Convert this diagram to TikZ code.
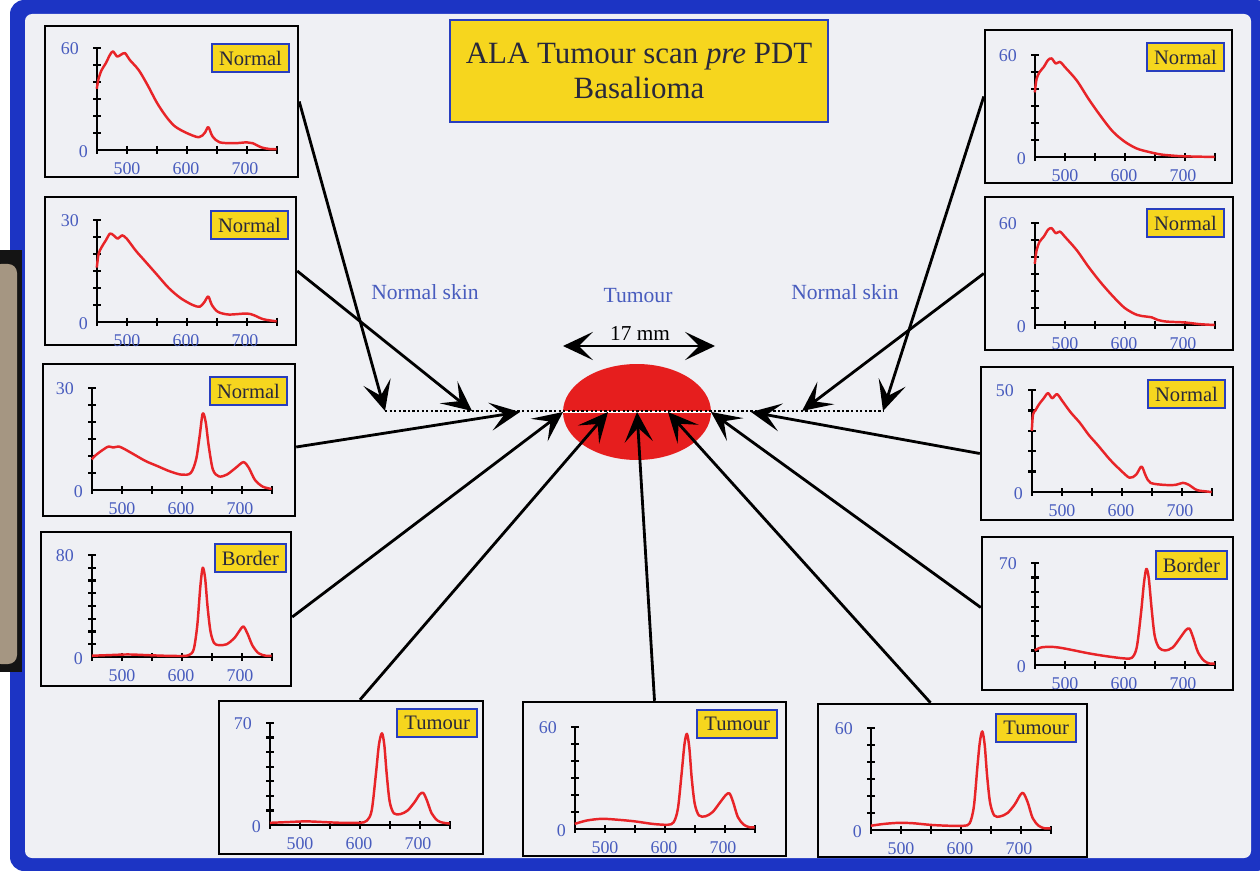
\documentclass[tikz,border=0pt]{standalone}
\usepackage{fontspec}
\setmainfont{Liberation Serif}
\usepackage{xcolor}
\usetikzlibrary{arrows.meta,positioning,calc,fit,shapes.geometric}

\definecolor{frameblue}{RGB}{28,52,196}
\definecolor{boardgray}{RGB}{239,240,244}
\definecolor{tagyellow}{RGB}{246,214,30}
\definecolor{tagblue}{RGB}{40,62,190}
\definecolor{numblue}{RGB}{72,92,190}
\definecolor{specred}{RGB}{232,36,40}
\definecolor{tumred}{RGB}{230,30,30}
\definecolor{inkdark}{RGB}{40,40,60}
\definecolor{clipbeige}{RGB}{165,150,130}

% one spectrum: name, axis origin, top value, y steps, data (nm, value)
\newcommand\specplot[5]{%
  \begin{scope}[shift={(#2)}]
    \draw[axisline] (0,-102) -- (0,0) -- (180,0);
    \foreach \k in {0,...,6}
      \draw[axisline] (30*\k,-4) -- (30*\k,4);
    \foreach \j in {1,...,#4}
      \draw[axisline] (-4,-102*\j/#4) -- (4,-102*\j/#4);
    \node[numlab, anchor=east] (#1-top) at (-16,-101) {#3};
    \node[numlab, anchor=east] (#1-zero) at (-7,2) {0};
    \foreach \v [count=\k] in {500,600,700}
      \node[numlab, anchor=north] (#1-x\k) at (59*\k-29,10) {\v};
    \pgfmathsetmacro\yunit{2.04/#3}
    \draw[specline, shift={(-270,0)}, x=0.012cm, y=\yunit cm]
      plot[smooth, tension=0.5] coordinates {#5};
  \end{scope}}

\begin{document}
\begin{tikzpicture}[
  x=0.02cm, y=-0.02cm,
  panel/.style={draw=black, line width=1.4pt, inner sep=0pt},
  tag/.style={fill=tagyellow, draw=tagblue, line width=1.2pt, text=inkdark,
    font=\fontsize{11.7}{14}\selectfont, inner xsep=4pt, inner ysep=0pt,
    minimum height=16pt},
  title/.style={fill=tagyellow, draw=tagblue, line width=1.2pt, text=inkdark,
    font=\fontsize{17.6}{20.4}\selectfont, align=center,
    minimum width=7.56cm, minimum height=2.04cm},
  axisline/.style={line width=1.3pt},
  specline/.style={specred, line width=1.4pt, line join=round},
  numlab/.style={text=numblue, font=\fontsize{10.2}{12}\selectfont, inner sep=1pt},
  skin/.style={text=numblue, font=\fontsize{12.3}{14}\selectfont},
  tumour/.style={ellipse, fill=tumred, minimum width=2.96cm,
    minimum height=1.92cm, inner sep=0pt, outer sep=0pt},
  arr/.style={line width=1.6pt, -{Stealth[length=17pt, width=16pt, inset=8pt]}},
  dotline/.style={line width=1.3pt, dash pattern=on 1.3pt off 1.3pt}
]
\useasboundingbox (0,0) rectangle (1260,871);

% board
\fill[white] (0,0) rectangle (1260,871);
\fill[frameblue, rounded corners=8pt] (10,0) rectangle (1270,871);
\fill[boardgray, rounded corners=4pt] (25,14) rectangle (1251,858);

% clip at the left edge
\fill[black!92] (0,250) rectangle (22,672);
\fill[clipbeige, rounded corners=5pt] (-8,264) rectangle (17,664);

\node[title] (ttl) at (639,71) {ALA Tumour scan \textit{pre} PDT\\Basalioma};

% left column
\node[panel, fit={(45,26) (298,177)}] (p1) {};
\node[tag, anchor=north east] (p1-tag) at (290,43) {Normal};
\specplot{p1}{97,150}{60}{6}{(450,36) (453,42) (458,47) (465,51) (472,56)
  (477,58) (484,55) (490,56) (497,57) (505,53) (520,47) (535,38) (550,28)
  (565,20) (580,14) (600,10) (620,7.5) (630,10) (636,13.5) (643,8) (655,4.5)
  (680,4) (700,4.5) (710,4) (725,1.5) (740,0.5) (750,0.5)}

\node[panel, fit={(45,197) (296,345)}] (p2) {};
\node[tag, anchor=north east] (p2-tag) at (289,210) {Normal};
\specplot{p2}{97,322}{30}{6}{(450,16) (453,20) (458,22) (465,24) (472,26)
  (478,25.5) (485,24.5) (492,25.5) (500,24.5) (515,21) (530,18) (550,14)
  (570,10) (590,7) (610,5) (622,4.5) (630,6) (636,7.5) (642,5) (652,3)
  (670,2.2) (700,2.5) (712,2) (728,0.8) (750,0.2)}

\node[panel, fit={(43,364) (295,516)}] (p3) {};
\node[tag, anchor=north east] (p3-tag) at (288,376) {Normal};
\specplot{p3}{92,490}{30}{6}{(450,9) (455,10) (462,11) (470,12) (478,12.8)
  (486,12.5) (495,12.8) (505,12) (520,10.5) (540,8.5) (560,7) (580,5.5)
  (600,4.5) (615,5) (624,9) (630,16) (635,22.5) (640,20) (645,13) (652,6)
  (662,4) (675,4.5) (690,6.5) (703,8.2) (712,6.5) (722,3) (735,1) (750,0.3)}

\node[panel, fit={(41,532) (291,686)}] (p4) {};
\node[tag, anchor=north east] (p4-tag) at (287,543) {Border};
\specplot{p4}{92,657}{80}{8}{(450,1) (480,1.5) (510,2) (540,1.5) (570,1)
  (600,0.8) (612,1.5) (620,6) (626,25) (631,55) (635,70) (639,62) (643,40)
  (648,20) (654,11) (662,9.3) (675,10) (688,15) (697,21) (703,24) (710,18)
  (718,9) (728,3) (740,1) (750,1)}

% bottom row
\node[panel, fit={(219,701) (483,854)}] (p5) {};
\node[tag, anchor=north east] (p5-tag) at (478,708) {Tumour};
\specplot{p5}{270,825}{70}{7}{(450,1.5) (480,2) (510,2.5) (540,2) (570,1.5)
  (600,1.5) (612,3) (620,10) (627,35) (632,55) (637,63) (641,55) (645,35)
  (650,16) (657,8) (668,7.5) (680,10) (692,16) (700,21) (706,22) (712,17)
  (720,8) (730,3) (740,1.5) (750,1)}

\node[panel, fit={(523,702) (786,856)}] (p6) {};
\node[tag, anchor=north east] (p6-tag) at (778,709) {Tumour};
\specplot{p6}{575,829}{60}{6}{(450,3) (470,5) (495,6) (520,5.5) (550,4.5)
  (580,3) (605,2.5) (615,4) (622,12) (628,32) (633,50) (637,56) (641,48)
  (645,30) (650,15) (657,8) (668,7.5) (680,10) (693,16) (702,20) (708,21)
  (714,16) (722,7) (732,2.5) (742,1) (750,1)}

\node[panel, fit={(818,704) (1087,857)}] (p7) {};
\node[tag, anchor=north east] (p7-tag) at (1077,713) {Tumour};
\specplot{p7}{871,830}{60}{6}{(450,2.5) (470,3.5) (495,4.2) (520,4) (550,3)
  (580,2.5) (605,2.5) (615,4) (622,14) (628,38) (632,52) (636,58) (640,50)
  (644,32) (649,16) (656,8.5) (666,8) (678,10) (690,15) (700,21) (705,21.5)
  (712,16) (720,7) (730,2.5) (740,1) (750,1)}

% right column
\node[panel, fit={(985,30) (1232,183)}] (r1) {};
\node[tag, anchor=north east] (r1-tag) at (1225,42) {Normal};
\specplot{r1}{1035,157}{60}{6}{(450,38) (453,46) (458,50) (465,53) (472,57)
  (478,58) (485,55) (492,56) (500,53) (520,45) (540,34) (560,24) (580,15)
  (600,9) (620,5) (640,3) (660,1.5) (680,0.8) (700,0.4) (750,0)}

\node[panel, fit={(985,197) (1233,350)}] (r2) {};
\node[tag, anchor=north east] (r2-tag) at (1225,208) {Normal};
\specplot{r2}{1035,325}{60}{6}{(450,36) (453,44) (458,49) (465,52) (472,56)
  (478,57) (485,54) (492,55) (500,52) (520,44) (540,34) (560,25) (580,17)
  (600,10) (620,6) (635,5) (645,4.5) (655,3) (670,2) (700,1.5) (725,0.5)
  (750,0)}

\node[panel, fit={(981,367) (1233,520)}] (r3) {};
\node[tag, anchor=north east] (r3-tag) at (1226,379) {Normal};
\specplot{r3}{1032,492}{50}{5}{(450,30) (452,38) (456,40) (462,43) (470,46)
  (477,48.5) (484,46) (492,48) (500,45) (515,39) (530,34) (545,28) (560,23)
  (580,16) (597,11) (613,7) (624,8.5) (633,12.5) (640,8) (648,4.5) (670,3.5)
  (690,3.5) (702,4.5) (712,3.5) (725,1) (740,0.3) (750,0)}

\node[panel, fit={(982,537) (1233,690)}] (r4) {};
\node[tag, anchor=north east] (r4-tag) at (1228,550) {Border};
\specplot{r4}{1035,665}{70}{7}{(450,10) (460,12) (475,12.5) (490,12) (510,10.5)
  (540,8) (570,6) (600,4.5) (612,5) (620,12) (627,35) (632,56) (636,66)
  (640,60) (645,38) (650,20) (657,12) (667,10) (680,12) (693,19) (702,24)
  (708,25) (714,19) (722,9) (732,3) (742,1) (750,1)}

% scan line over the tumour
\node[tumour] (tum) at (637,412) {};
\coordinate (dl) at (385,411);
\coordinate (dr) at (883,411);
\draw[white, line width=1.3pt] (tum.west) -- (tum.east);
\draw[dotline] (dl) -- (dr);

\coordinate (n2) at (472,411);
\coordinate (n3) at (520,412);
\coordinate (t2) at (608,412);
\coordinate (t3) at (637,412);
\coordinate (t4) at (668,412);
\coordinate (n4) at (751,412);
\coordinate (n5) at (802,411);

\draw[arr] (p1.east) -- (dl);
\draw[arr] (p2.east) -- (n2);
\draw[arr] ($(p3.east)+(0,7)$) -- (n3);
\draw[arr] ($(p4.east)+(0,8)$) -- (tum.west);
\draw[arr] ($(p5.north)+(9,0)$) -- (t2);
\draw[arr] (p6.north) -- (t3);
\draw[arr] ($(p7.north)+(-22,0)$) -- (t4);
\draw[arr] ($(r4.west)+(0,-6)$) -- (tum.east);
\draw[arr] ($(r3.west)+(0,10)$) -- (n4);
\draw[arr] (r2.west) -- (n5);
\draw[arr] ($(r1.west)+(0,-10)$) -- (dr);

% width of the tumour
\coordinate (w1) at (563,346);
\coordinate (w2) at (715,346);
\draw[arr, {Stealth[length=17pt, width=16pt, inset=8pt]}-{Stealth[length=17pt, width=16pt, inset=8pt]}] (w1) -- (w2);
\node[font=\fontsize{12.1}{14}\selectfont] (mm) at (640,333) {17 mm};

\node[skin] (skl) at (425,292) {Normal skin};
\node[skin] (tuml) at (638,296) {Tumour};
\node[skin] (skr) at (845,292) {Normal skin};
\end{tikzpicture}
\end{document}
